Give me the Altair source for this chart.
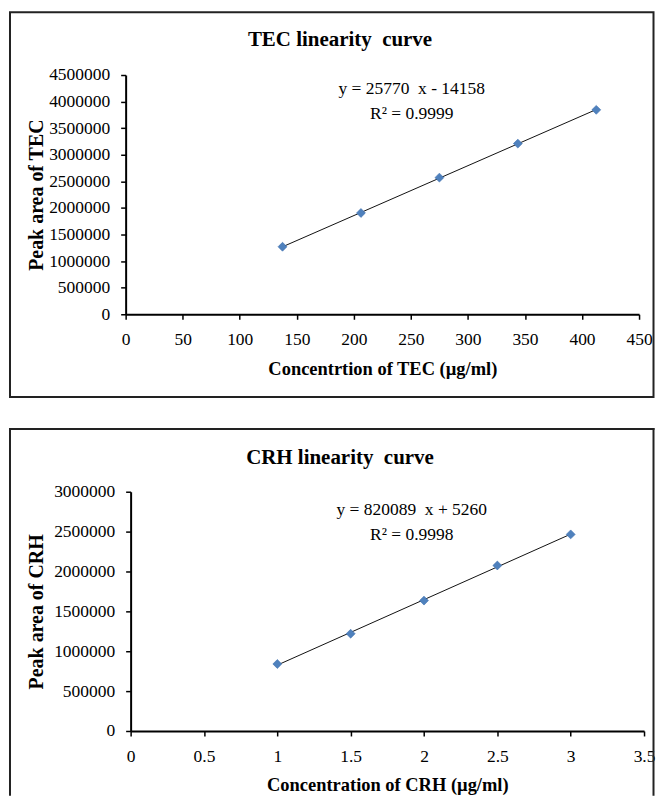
import altair as alt
import pandas as pd

# ---- data ----
tec_conc = [137.5, 206.25, 275, 343.75, 412.5]
tec_area = [1270000, 1905000, 2570000, 3210000, 3845000]
crh_conc = [1, 1.5, 2, 2.5, 3]
crh_area = [840000, 1220000, 1635000, 2075000, 2465000]

tec_xticks = [0, 50, 100, 150, 200, 250, 300, 350, 400, 450]
tec_yticks = [0, 500000, 1000000, 1500000, 2000000, 2500000, 3000000, 3500000, 4000000, 4500000]
crh_xticks = [0, 0.5, 1, 1.5, 2, 2.5, 3, 3.5]
crh_yticks = [0, 500000, 1000000, 1500000, 2000000, 2500000, 3000000]

tec_title = "TEC linearity\u00a0 curve"
crh_title = "CRH linearity\u00a0 curve"
tec_eq = ["y = 25770\u00a0 x - 14158", "R\u00b2 = 0.9999"]
crh_eq = ["y = 820089\u00a0 x + 5260", "R\u00b2 = 0.9998"]
tec_xtitle = "Concentrtion of TEC (\u00b5g/ml)"
crh_xtitle = "Concentration of CRH (\u00b5g/ml)"
tec_ytitle = "Peak area of TEC"
crh_ytitle = "Peak area of CRH"

FONT = "Liberation Serif"
H = 240
PW = 515
one = alt.Data(values=[{"a": 1}])
FRAME = "#222222"


def make_panel(conc, area, xticks, yticks, xdom, ydom, title, eq, xtitle, ytitle,
               yoffset, xfmt, eq_y, title_y, full_frame, xlabpad):
    df = pd.DataFrame({"x": conc, "y": area})
    xscale = alt.Scale(domain=xdom, nice=False, zero=False,
                       range=[yoffset, yoffset + PW])
    yscale = alt.Scale(domain=ydom, nice=False, zero=False)
    xaxis = alt.Axis(values=xticks, format=xfmt, title=xtitle, grid=False,
                     domainColor="black", domainWidth=2, tickColor="black",
                     tickWidth=1.5, tickSize=5, labelFont=FONT, labelFontSize=17.5,
                     labelColor="black", labelPadding=xlabpad, labelFlush=False,
                     labelOverlap=False, titleFont=FONT, titleFontSize=18.5,
                     titleFontWeight="bold", titleColor="black", titleY=54,
                     titleBaseline="middle")
    yaxis = alt.Axis(values=yticks, format="d", title=ytitle, grid=False,
                     domainColor="black", domainWidth=2, tickColor="black",
                     tickWidth=1.5, tickSize=5, labelFont=FONT, labelFontSize=17.5,
                     labelColor="black", labelPadding=11, labelFlush=False,
                     labelOverlap=False, titleFont=FONT, titleFontSize=20,
                     titleFontWeight="bold", titleColor="black",
                     titleX=-89 - yoffset, titleBaseline="middle", offset=-yoffset)
    base = alt.Chart(df).encode(
        x=alt.X("x:Q", scale=xscale, axis=xaxis),
        y=alt.Y("y:Q", scale=yscale, axis=yaxis),
    )
    line = base.transform_regression("x", "y").mark_line(color="#111111", strokeWidth=1)
    pts = base.mark_point(shape="diamond", filled=True, size=80, color="#4F81BD",
                          opacity=1, stroke="#3D6FAE", strokeWidth=0.6)

    layers = []
    if full_frame:
        frame = alt.Chart(one).mark_rect(filled=False, stroke=FRAME, strokeWidth=2).encode(
            x=alt.value(-116), x2=alt.value(529.5), y=alt.value(-63), y2=alt.value(323))
        layers.append(frame)
    else:
        f_top = alt.Chart(one).mark_rule(color=FRAME, strokeWidth=2).encode(
            x=alt.value(-117), x2=alt.value(530.5), y=alt.value(-63))
        f_left = alt.Chart(one).mark_rule(color=FRAME, strokeWidth=2).encode(
            x=alt.value(-116), y=alt.value(-64), y2=alt.value(305))
        f_right = alt.Chart(one).mark_rule(color=FRAME, strokeWidth=2).encode(
            x=alt.value(529.5), y=alt.value(-64), y2=alt.value(305))
        layers += [f_top, f_left, f_right]

    ttl = alt.Chart(one).mark_text(font=FONT, fontSize=21, fontWeight="bold",
                                   align="center", baseline="alphabetic", color="black").encode(
        x=alt.value(215), y=alt.value(title_y), text=alt.value(title))
    e1 = alt.Chart(one).mark_text(font=FONT, fontSize=17.5, align="center",
                                  baseline="alphabetic", color="black").encode(
        x=alt.value(287), y=alt.value(eq_y[0]), text=alt.value(eq[0]))
    e2 = alt.Chart(one).mark_text(font=FONT, fontSize=17.5, align="center",
                                  baseline="alphabetic", color="black").encode(
        x=alt.value(287), y=alt.value(eq_y[1]), text=alt.value(eq[1]))
    layers += [line, pts, ttl, e1, e2]
    return alt.layer(*layers).properties(width=PW + yoffset, height=H)


top = make_panel(tec_conc, tec_area, tec_xticks, tec_yticks, [0, 450], [0, 4500000],
                 tec_title, tec_eq, tec_xtitle, tec_ytitle,
                 yoffset=0, xfmt="d", eq_y=[19, 44], title_y=-29,
                 full_frame=True, xlabpad=11)
bottom = make_panel(crh_conc, crh_area, crh_xticks, crh_yticks, [0, 3.5], [0, 3000000],
                    crh_title, crh_eq, crh_xtitle, crh_ytitle,
                    yoffset=5, xfmt="~g", eq_y=[23, 48], title_y=-28,
                    full_frame=False, xlabpad=12)

chart = alt.vconcat(top, bottom, spacing=29).properties(
    padding={"left": 0, "top": 2, "right": 0, "bottom": 0},
    background="white",
).configure_view(stroke=None)

chart.save("out.html", embed_options={"renderer": "svg", "actions": False})
